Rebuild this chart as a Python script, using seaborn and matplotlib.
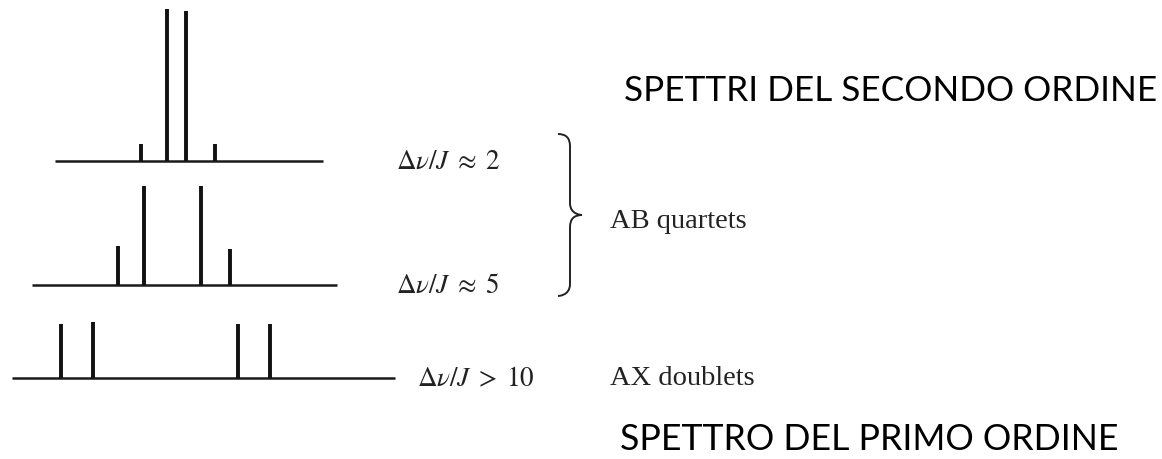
"""Spettri NMR AB / AX: effetto del rapporto delta-nu/J."""

import matplotlib
matplotlib.use("Agg")

import matplotlib.pyplot as plt
import seaborn as sns
from matplotlib.patches import PathPatch
from matplotlib.path import Path

# posizioni (frequenza, unita arbitrarie) e intensita delle righe
peaks_ratio2 = [141, 167, 186, 215]
heights_ratio2 = [17, 152, 150, 17]
peaks_ratio5 = [118, 144, 201, 230]
heights_ratio5 = [39, 99, 99, 36]
peaks_ratio10 = [61, 93, 238, 270]
heights_ratio10 = [54, 56, 54, 54]

# linea di base di ogni spettro: (inizio, fine, livello)
baseline_start = [55, 32, 12]
baseline_end = [323, 337, 395]
baseline_level = [162, 286, 379]

ratio_labels = [r"$\Delta\nu/J\;\approx\;2$", r"$\Delta\nu/J\;\approx\;5$", r"$\Delta\nu/J\;>\;10$"]
ratio_label_x = [396, 396, 417]

sns.set_theme(style="white")
plt.rcParams["mathtext.fontset"] = "stix"
plt.rcParams["font.family"] = ["Liberation Serif", "DejaVu Serif"]

fig = plt.figure(figsize=(11.62, 4.6), dpi=100)
ax = fig.add_axes([0, 0, 1, 1])
ax.set_xlim(0, 1162)
ax.set_ylim(460, 0)
ax.axis("off")

spectra = [
    (peaks_ratio2, heights_ratio2),
    (peaks_ratio5, heights_ratio5),
    (peaks_ratio10, heights_ratio10),
]
for i, (pos, hgt) in enumerate(spectra):
    base = baseline_level[i]
    ax.hlines(base, baseline_start[i], baseline_end[i], color="#1a1a1a", linewidth=1.8)
    ax.vlines(pos, base, [base - h for h in hgt], color="#111111", linewidth=2.8)
    ax.text(ratio_label_x[i], base + 1, ratio_labels[i], fontsize=19.5, ha="left", va="center", color="#222222")

# parentesi graffa per i quartetti AB
x0, xm, xt = 558, 570, 582
y0, ym, y1 = 135, 216, 297
verts = [
    (x0, y0), (xm, y0), (xm, y0 + 12),
    (xm, ym - 12),
    (xm, ym), (xt, ym), (xt, ym),
    (xm, ym), (xm, ym + 12),
    (xm, y1 - 12),
    (xm, y1), (x0, y1), (x0, y1),
]
codes = [Path.MOVETO, Path.CURVE3, Path.CURVE3, Path.LINETO,
         Path.CURVE4, Path.CURVE4, Path.CURVE4,
         Path.CURVE3, Path.CURVE3, Path.LINETO,
         Path.CURVE4, Path.CURVE4, Path.CURVE4]
ax.add_patch(PathPatch(Path(verts, codes), facecolor="none", edgecolor="#222222", linewidth=1.4))

ax.text(610, 222, "AB quartets", fontsize=20.5, ha="left", va="center", color="#222222")
ax.text(610, 379, "AX doublets", fontsize=20.5, ha="left", va="center", color="#222222")

ax.text(624, 91, "SPETTRI DEL SECONDO ORDINE", fontsize=25.3, ha="left", va="center",
        color="black", family=["Lato", "DejaVu Sans"])
ax.text(620, 440, "SPETTRO DEL PRIMO ORDINE", fontsize=25.7, ha="left", va="center",
        color="black", family=["Lato", "DejaVu Sans"])

fig.savefig("out.png", dpi=100)
plt.close(fig)
